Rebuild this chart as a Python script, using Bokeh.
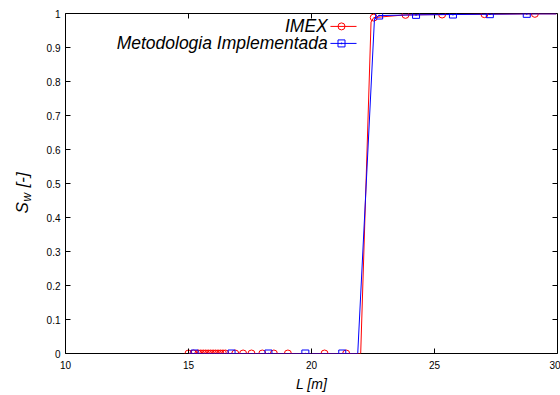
from bokeh.plotting import figure
from bokeh.layouts import row
from bokeh.models import Range1d, FixedTicker, CustomJSTickFormatter, Label
from bokeh.embed import file_html
from bokeh.resources import INLINE

# ---------------- data ----------------
x_ticks = [10, 15, 20, 25, 30]
y_ticks = [0, 0.1, 0.2, 0.3, 0.4, 0.5, 0.6, 0.7, 0.8, 0.9, 1.0]

series_names = ["IMEX", "Metodologia Implementada"]

imex_x = [15.0, 15.2, 15.4, 15.5, 15.6, 15.7, 15.8, 15.9, 16.0, 16.1, 16.2, 16.3,
          16.4, 16.5, 16.9, 17.22, 17.56, 18.0, 18.47, 19.04, 20.53, 21.41,
          22.0, 22.42, 22.53, 23.82, 25.31, 27.03, 29.08, 29.95]
imex_y = [0, 0, 0, 0, 0, 0, 0, 0, 0, 0, 0, 0,
          0, 0, 0, 0, 0, 0, 0, 0, 0, 0,
          0, 0.975, 0.988, 0.996, 0.997, 0.998, 0.999, 0.999]
imex_marked = [1, 1, 1, 1, 1, 1, 1, 1, 1, 1, 1, 1,
               1, 1, 1, 1, 1, 1, 1, 1, 1, 1,
               0, 0, 1, 1, 1, 1, 1, 0]

metod_x = [15.0, 15.25, 16.75, 18.25, 19.75, 21.25, 21.88, 22.56, 22.75,
           24.25, 25.75, 27.25, 28.75, 29.95]
metod_y = [0, 0, 0, 0, 0, 0, 0, 0.985, 0.994,
           0.996, 0.997, 0.998, 0.999, 0.999]
metod_marked = [0, 1, 1, 1, 1, 1, 0, 0, 1,
                1, 1, 1, 1, 0]

RED = "#ff0000"
BLUE = "#0000ff"
FONT = "Liberation Sans"
X0, X1, Y0, Y1 = 10, 30, 0, 1
FRAME_W, FRAME_H = 492, 340
BORDER_TOP, BORDER_BOTTOM = 13, 42
TICK_PX = 5
LABEL_PANEL_W = 40
TOTAL_W, TOTAL_H = 560, 395

# ---------------- main figure ----------------
p = figure(width=TOTAL_W - LABEL_PANEL_W, height=TOTAL_H, output_backend="svg",
           toolbar_location=None,
           x_range=Range1d(X0, X1), y_range=Range1d(Y0, Y1),
           min_border_left=25, min_border_right=3, min_border_top=BORDER_TOP,
           min_border_bottom=BORDER_BOTTOM)
p.background_fill_color = "white"
p.border_fill_color = "white"
p.outline_line_color = "black"
p.outline_line_alpha = 1.0
p.outline_line_width = 1
p.xgrid.visible = False
p.ygrid.visible = False

fmt = CustomJSTickFormatter(code="return tick.toFixed(1).replace(/\\.0$/, '');")

for ax, ticks in ((p.xaxis[0], x_ticks), (p.yaxis[0], y_ticks)):
    ax.ticker = FixedTicker(ticks=ticks)
    ax.formatter = fmt
    ax.axis_line_color = None
    ax.major_tick_in = TICK_PX
    ax.major_tick_out = 0
    ax.minor_tick_line_color = None
    ax.major_tick_line_color = "black"
    ax.major_label_text_font = FONT
    ax.major_label_text_font_size = "10px"
    ax.major_label_text_color = "black"

p.xaxis[0].major_label_standoff = 7
p.yaxis[0].major_label_standoff = 5
p.xaxis[0].axis_label = "L [m]"
p.xaxis[0].axis_label_text_font = FONT
p.xaxis[0].axis_label_text_font_style = "italic"
p.xaxis[0].axis_label_text_font_size = "14px"
p.xaxis[0].axis_label_standoff = 4
p.xaxis[0].axis_label_text_color = "black"

# mirror ticks on top and right edges (gnuplot style)
dy = TICK_PX * (Y1 - Y0) / FRAME_H
dx = TICK_PX * (X1 - X0) / FRAME_W
p.segment(x0=x_ticks, y0=[Y1] * len(x_ticks), x1=x_ticks, y1=[Y1 - dy] * len(x_ticks),
          line_color="black", line_width=1)
p.segment(x0=[X1] * len(y_ticks), y0=y_ticks, x1=[X1 - dx] * len(y_ticks), y1=y_ticks,
          line_color="black", line_width=1)

# ---------------- series ----------------
def split(xs, ys, flags):
    mx = [x for x, f in zip(xs, flags) if f]
    my = [y for y, f in zip(ys, flags) if f]
    return mx, my

ix, iy = split(imex_x, imex_y, imex_marked)
mx, my = split(metod_x, metod_y, metod_marked)

p.line(imex_x, imex_y, line_color=RED, line_width=1)
p.scatter(ix, iy, marker="circle", size=7, fill_color=None, line_color=RED, line_width=1)

p.line(metod_x, metod_y, line_color=BLUE, line_width=1)
p.scatter(mx, my, marker="square_dot", size=7, fill_color=None, line_color=BLUE, line_width=1)

# ---------------- legend (gnuplot style: text left, key right) ----------------
leg_text_x = 20.66
leg_key_x0, leg_key_x1, leg_key_mid = 20.77, 21.83, 21.22
leg_rows_y = [0.962, 0.912]
for name, yy, col, mk in zip(series_names, leg_rows_y, [RED, BLUE], ["circle", "square_dot"]):
    p.line([leg_key_x0, leg_key_x1], [yy, yy], line_color=col, line_width=1)
    p.scatter([leg_key_mid], [yy], marker=mk, size=7, fill_color=None,
              line_color=col, line_width=1)
    p.add_layout(Label(x=leg_text_x, y=yy, text=name, text_align="right",
                       text_baseline="middle", text_font=FONT, text_font_style="italic",
                       text_font_size="17.5px", text_color="black"))

# ---------------- y axis label panel:  S_w [-] ----------------
# its frame is aligned with the main frame; data units = pixels from the canvas bottom
q = figure(width=LABEL_PANEL_W, height=TOTAL_H, output_backend="svg", toolbar_location=None,
           x_range=Range1d(0, LABEL_PANEL_W),
           y_range=Range1d(BORDER_BOTTOM, TOTAL_H - BORDER_TOP),
           x_axis_type=None, y_axis_type=None,
           min_border_left=0, min_border_right=0, min_border_top=BORDER_TOP,
           min_border_bottom=BORDER_BOTTOM)
q.title = None
q.outline_line_color = None
q.background_fill_color = "white"
q.border_fill_color = "white"
q.xgrid.visible = False
q.ygrid.visible = False

ylab_base = 22        # pixel column of the text baseline
ylab_start = 182      # pixel height (from canvas bottom) where the label starts
q.add_layout(Label(x=ylab_base, y=ylab_start, text="S", angle=1.5708,
                   text_align="left", text_baseline="alphabetic",
                   text_font=FONT, text_font_style="italic", text_font_size="17px",
                   text_color="black"))
q.add_layout(Label(x=ylab_base + 4, y=ylab_start + 12, text="w", angle=1.5708,
                   text_align="left", text_baseline="alphabetic",
                   text_font=FONT, text_font_style="italic", text_font_size="12px",
                   text_color="black"))
q.add_layout(Label(x=ylab_base, y=ylab_start + 26, text="[-]", angle=1.5708,
                   text_align="left", text_baseline="alphabetic",
                   text_font=FONT, text_font_style="italic", text_font_size="17px",
                   text_color="black"))

layout = row(q, p, spacing=0)
open("out.html", "w").write(file_html(layout, INLINE))
